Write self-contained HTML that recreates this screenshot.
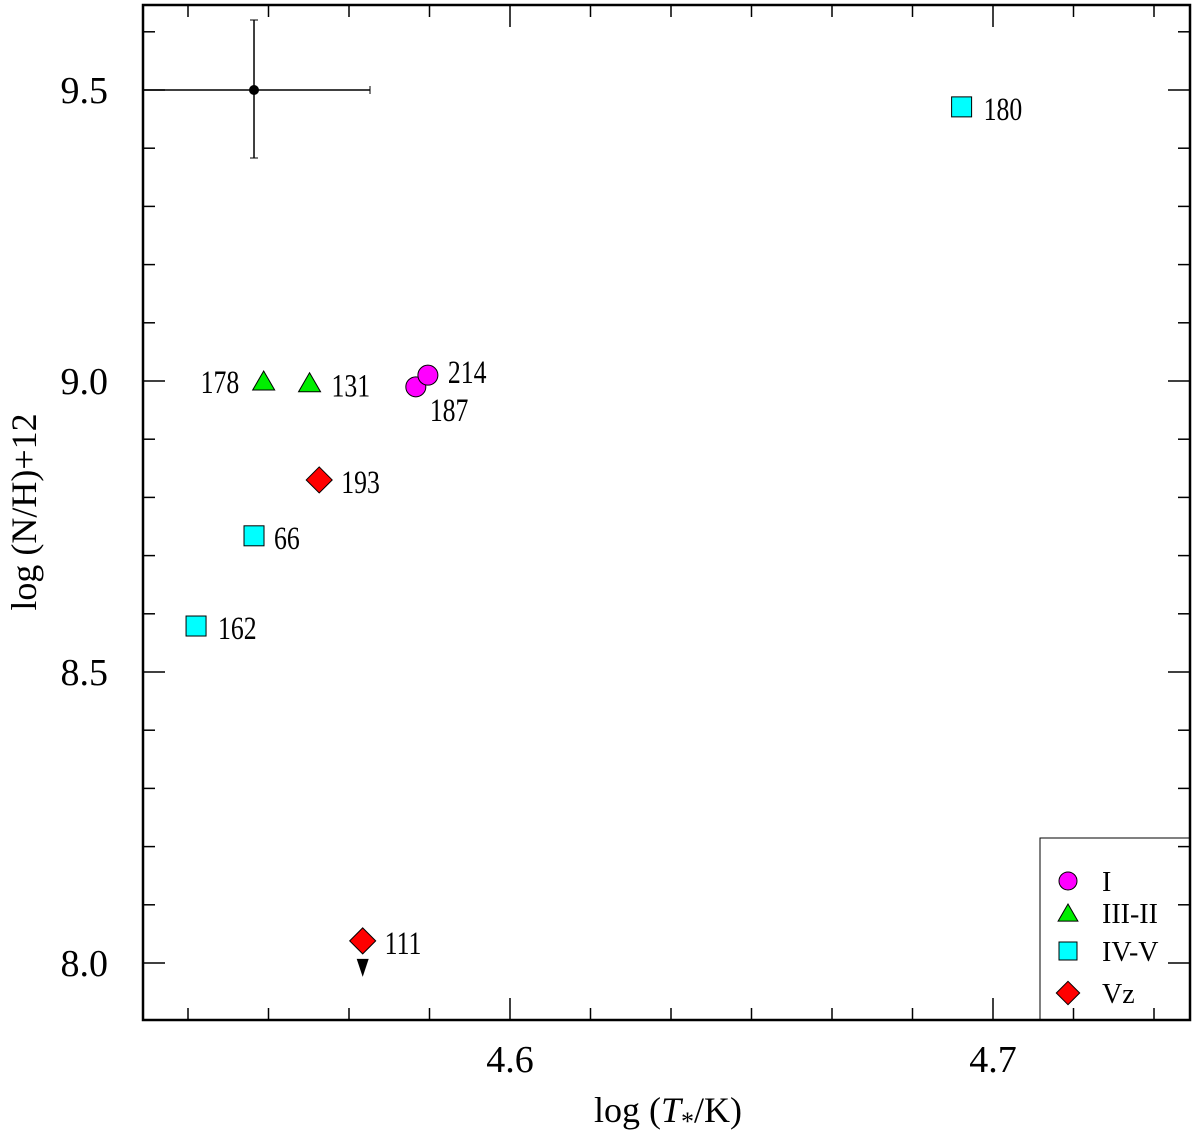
<!DOCTYPE html>
<html><head><meta charset="utf-8"><style>
body{margin:0;background:#fff}
svg{display:block;font-family:"Liberation Serif",serif}
</style></head><body>
<svg id="c" width="1200" height="1139"></svg>
<script>
const xs=[4.5470,4.5490,4.5585,4.5805,4.5830,4.5605,4.5470,4.5350,4.5695,4.6935];
const ys=[9.500,9.000,8.997,8.990,9.010,8.830,8.734,8.579,8.038,9.471];
const labels=["","178","131","187","214","193","66","162","111","180"];
const types=["err","tri","tri","circ","circ","dia","sq","sq","dia","sq"];
const xTicks=[4.6,4.7];
const yTicks=[8.0,8.5,9.0,9.5];
const X=v=>510+(v-4.6)*4830;
const Y=v=>963-(v-8)*582;
const L=143,R=1190,T=5,B=1020;
const svg=document.getElementById('c');
const NS='http://www.w3.org/2000/svg';
function mk(tag,attrs,parent){const e=document.createElementNS(NS,tag);for(const k in attrs)e.setAttribute(k,attrs[k]);(parent||svg).appendChild(e);return e;}
let fr=mk('rect',{x:L,y:T,width:R-L,height:B-T,fill:'none',stroke:'#000','stroke-width':2.5});


for(let v=4.6-0.1;v<=4.75;v+=0.1/6){const x=X(v);if(x<L||x>R)continue;
 const major=xTicks.some(t=>Math.abs(t-v)<1e-6);const h=major?22:12;
 let t=mk('line',{x1:x,x2:x,y1:B,y2:B-h,stroke:'#000','stroke-width':1.5});
 
 let t2=mk('line',{x1:x,x2:x,y1:T,y2:T+h,stroke:'#000','stroke-width':1.5});
 }
xTicks.forEach(v=>{let t=mk('text',{x:X(v),y:1072,'font-size':38,'text-anchor':'middle'});t.textContent=v.toFixed(1);
 });
for(let v=7.9;v<=9.65;v+=0.1){const y=Y(v);if(y<T||y>B)continue;
 const major=yTicks.some(t=>Math.abs(t-v)<1e-6);const h=major?22:12;
 let t=mk('line',{x1:L,x2:L+h,y1:y,y2:y,stroke:'#000','stroke-width':1.5});
 
 let t2=mk('line',{x1:R,x2:R-h,y1:y,y2:y,stroke:'#000','stroke-width':1.5});
 }
yTicks.forEach(v=>{let t=mk('text',{x:108,y:Y(v)+13,'font-size':38,'text-anchor':'end'});t.textContent=v.toFixed(1);
 });
let xt=mk('text',{x:668,y:1122,'font-size':36,'text-anchor':'middle'});
xt.innerHTML='log (<tspan font-style="italic">T</tspan><tspan font-size="26" dy="8">*</tspan><tspan dy="-8">/K)</tspan>';

let yt=mk('text',{x:36,y:512,'font-size':36,'text-anchor':'middle',transform:'rotate(-90 36 512)'});
yt.textContent='log (N/H)+12';

const styles={circ:'#ff00ff',tri:'#00ee00',sq:'#00ffff',dia:'#ff0000'};
function marker(type,x,y,g,s){s=s||1;
 if(type==='circ')return mk('circle',{cx:x,cy:y,r:10*s,fill:styles.circ,stroke:'#000'},g);
 if(type==='tri')return mk('polygon',{points:`${x},${y-10*s} ${x+11*s},${y+9*s} ${x-11*s},${y+9*s}`,fill:styles.tri,stroke:'#000'},g);
 if(type==='sq')return mk('rect',{x:x-10*s,y:y-10*s,width:20*s,height:20*s,fill:styles.sq,stroke:'#000'},g);
 return mk('polygon',{points:`${x},${y-13*s} ${x+13*s},${y} ${x},${y+13*s} ${x-13*s},${y}`,fill:styles.dia,stroke:'#000'},g);
}
const offs={"178":[-63,12],"131":[22,14],"187":[14,34],"214":[20,8],"193":[22,13],"66":[20,13],"162":[22,13],"111":[22,13],"180":[22,13]};
xs.forEach((xv,i)=>{const x=X(xv),y=Y(ys[i]);
 const g=mk('g',{});
 
 
 if(types[i]==='err'){
  mk('line',{x1:143,x2:370,y1:y,y2:y,stroke:'#000','stroke-width':1.5},g);
  mk('line',{x1:x,x2:x,y1:20,y2:158,stroke:'#000','stroke-width':1.5},g);
  mk('line',{x1:370,x2:370,y1:y-4,y2:y+4,stroke:'#000'},g);
  mk('line',{x1:x-4,x2:x+4,y1:20,y2:20,stroke:'#000'},g);
  mk('line',{x1:x-4,x2:x+4,y1:158,y2:158,stroke:'#000'},g);
  mk('circle',{cx:x,cy:y,r:5,fill:'#000'},g);return;}
 if(labels[i]==='111'){mk('polygon',{points:`${x-6},${y+18} ${x+6},${y+18} ${x},${y+36}`,fill:'#000'},g);}
 marker(types[i],x,y,g);
 const o=offs[labels[i]];
 const t=mk('text',{transform:`translate(${x+o[0]},${y+o[1]}) scale(0.78,1)`,'font-size':33},g);t.textContent=labels[i];
});
const lg=mk('g',{});

mk('rect',{x:1040,y:838,width:150,height:182,fill:'none',stroke:'#000','stroke-width':1},lg);
const legNames=["I","III-II","IV-V","Vz"];
const legTypes=["circ","tri","sq","dia"];
const legY=[881,913,951,993];
legNames.forEach((n,i)=>{const e=mk('g',{},lg);
 
 marker(legTypes[i],1068,legY[i],e,0.9);
 const t=mk('text',{x:1102,y:legY[i]+10,'font-size':28},e);t.textContent=n;});
</script>
</body></html>
